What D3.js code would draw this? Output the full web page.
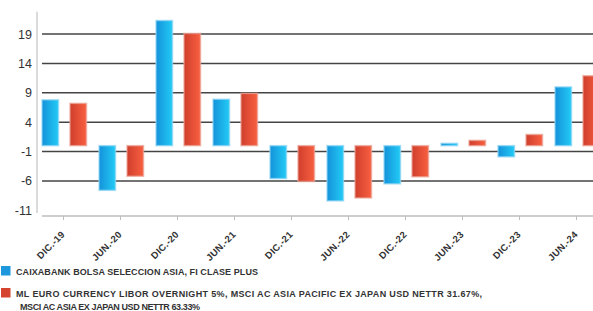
<!DOCTYPE html>
<html>
<head>
<meta charset="utf-8">
<script src="https://cdn.jsdelivr.net/npm/d3@7"></script>
<style>
  body { margin: 0; background: #fff; }
  svg { display: block; font-family: "Liberation Sans", Arial, sans-serif; }
</style>
</head>
<body>
<div id="chart"></div>
<script>
const categorias = ["DIC.-19", "JUN.-20", "DIC.-20", "JUN.-21", "DIC.-21", "JUN.-22", "DIC.-22", "JUN.-23", "DIC.-23", "JUN.-24"];
const fondo = [7.8, -7.6, 21.3, 7.9, -5.6, -9.4, -6.5, 0.4, -1.9, 10.0];
const indice = [7.2, -5.2, 19.1, 8.9, -6.1, -8.9, -5.3, 0.9, 1.9, 11.9];
const ticksY = [19, 14, 9, 4, -1, -6, -11];
const nomes = [
  ["CAIXABANK BOLSA SELECCION ASIA, FI CLASE PLUS"],
  ["ML EURO CURRENCY LIBOR OVERNIGHT 5%, MSCI AC ASIA PACIFIC EX JAPAN USD NETTR 31.67%,",
   "MSCI AC ASIA EX JAPAN USD NETTR 63.33%"]
];

const width = 593;
const height = 311;

const svg = d3.select("#chart").append("svg")
  .attr("width", width).attr("height", height);

// gradientes das barras
const defs = svg.append("defs");
function grad(id, c0, c1) {
  const g = defs.append("linearGradient").attr("id", id)
    .attr("x1", "0%").attr("x2", "100%").attr("y1", "0%").attr("y2", "0%");
  g.append("stop").attr("offset", "0%").attr("stop-color", c0);
  g.append("stop").attr("offset", "100%").attr("stop-color", c1);
}
grad("gBlue", "#1592da", "#22cbf6");
grad("gRed", "#cf3f2d", "#f95f40");

const x = d3.scaleBand().domain(categorias).range([35, 605]).padding(0);
const x1 = d3.scaleBand().domain(["f", "i"]).range([-21.5, 23]).paddingInner(0.41);
const y = d3.scaleLinear().domain([-11, 22.8]).range([210.3, 11.7]);

// eixo y
svg.append("line")
  .attr("x1", 37).attr("x2", 37)
  .attr("y1", y(22.8)).attr("y2", 213)
  .attr("stroke", "#cfcfcf").attr("stroke-width", 1.5);

svg.append("g").selectAll("text")
  .data(ticksY).enter()
  .append("text")
  .attr("x", 32)
  .attr("y", d => y(d))
  .attr("dy", "0.36em")
  .attr("text-anchor", "end")
  .attr("font-size", 12.5)
  .attr("fill", "#333")
  .text(d => d);

// grelha
svg.append("g").selectAll("line")
  .data(ticksY.filter(d => d > -11)).enter()
  .append("line")
  .attr("x1", 42).attr("x2", width)
  .attr("y1", d => y(d)).attr("y2", d => y(d))
  .attr("stroke", "#444").attr("stroke-width", 1.5);

// eixo x
svg.append("line")
  .attr("x1", 42).attr("x2", width)
  .attr("y1", 216).attr("y2", 216)
  .attr("stroke", "#bdbdbd").attr("stroke-width", 1.5);

svg.append("g").selectAll("line")
  .data(categorias).enter()
  .append("line")
  .attr("x1", d => x(d) + x.bandwidth() / 2)
  .attr("x2", d => x(d) + x.bandwidth() / 2)
  .attr("y1", 216).attr("y2", 220)
  .attr("stroke", "#bdbdbd").attr("stroke-width", 1);

svg.append("g").selectAll("text")
  .data(categorias).enter()
  .append("text")
  .attr("transform", d => `translate(${x(d) + x.bandwidth() / 2 + 2}, 235) rotate(-45)`)
  .attr("text-anchor", "end")
  .attr("font-size", 9.5)
  .attr("font-weight", "bold")
  .attr("letter-spacing", 0.3)
  .attr("fill", "#333")
  .text(d => d);

// barras
const series = [
  {key: "f", vals: fondo, fill: "url(#gBlue)", halo: "#8fd4f4"},
  {key: "i", vals: indice, fill: "url(#gRed)", halo: "#eba497"}
];

series.forEach(s => {
  svg.append("g").selectAll("rect")
    .data(s.vals.map((v, i) => ({c: categorias[i], v: v}))).enter()
    .append("rect")
    .attr("x", d => x(d.c) + x.bandwidth() / 2 + x1(s.key))
    .attr("width", x1.bandwidth())
    .attr("y", d => Math.min(y(0), y(d.v)))
    .attr("height", d => Math.abs(y(d.v) - y(0)))
    .attr("fill", s.fill)
    .attr("stroke", s.halo)
    .attr("stroke-width", 1.5)
    .attr("stroke-opacity", 0.7);
});

// legenda
const legCores = ["#1d98dd", "#d4442f"];
const legY = [266, 288];
const legLarg = [[242], [466, 180]];
nomes.forEach((linhas, i) => {
  svg.append("rect")
    .attr("x", 1).attr("y", legY[i])
    .attr("width", 9.5).attr("height", 9.5)
    .attr("fill", legCores[i]);
  linhas.forEach((t, j) => {
    svg.append("text")
      .attr("x", j === 0 ? 16 : 20)
      .attr("y", legY[i] + 8.5 + j * 13.5)
      .attr("font-size", 9)
      .attr("font-weight", "bold")
      .attr("fill", "#333")
      .attr("textLength", legLarg[i][j])
      .attr("lengthAdjust", "spacing")
      .text(t);
  });
});
</script>
</body>
</html>
